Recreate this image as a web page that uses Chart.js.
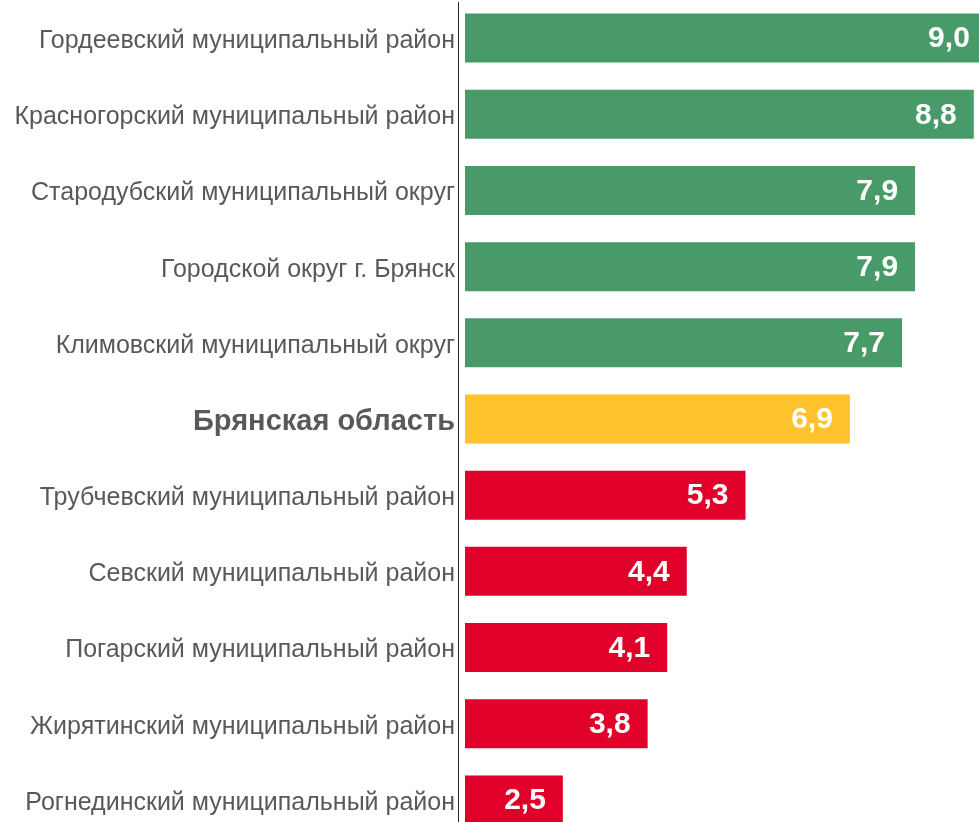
<!DOCTYPE html>
<html>
<head>
<meta charset="utf-8">
<script src="https://cdn.jsdelivr.net/npm/chart.js@4"></script>
<style>
html,body{margin:0;padding:0;background:#fff;overflow:hidden;}
#wrap{position:relative;width:979px;height:838px;}
</style>
</head>
<body>
<div id="wrap"><canvas id="c" width="979" height="838"></canvas></div>
<script>
const categories = [
  "Гордеевский муниципальный район",
  "Красногорский муниципальный район",
  "Стародубский муниципальный округ",
  "Городской округ г. Брянск",
  "Климовский муниципальный округ",
  "Брянская область",
  "Трубчевский муниципальный район",
  "Севский муниципальный район",
  "Погарский муниципальный район",
  "Жирятинский муниципальный район",
  "Рогнединский муниципальный район"
];
const values = [9.0, 8.8, 7.9, 7.9, 7.7, 6.9, 5.3, 4.4, 4.1, 3.8, 2.5];
const regionName = "Брянская область";

const regionValue = values[categories.indexOf(regionName)];
const barColors = categories.map((c, i) =>
  c === regionName ? "#FEC22D" : (values[i] > regionValue ? "#489A68" : "#E0002A"));

const valueLabels = {
  id: "valueLabels",
  afterDatasetsDraw(chart) {
    const ctx = chart.ctx;
    const meta = chart.getDatasetMeta(0);
    ctx.save();
    ctx.fillStyle = "#ffffff";
    ctx.font = "bold 30px 'Liberation Sans', Arial, sans-serif";
    ctx.textAlign = "right";
    ctx.textBaseline = "middle";
    meta.data.forEach((bar, i) => {
      const txt = values[i].toFixed(1).replace(".", ",");
      ctx.fillText(txt, bar.x - 17, bar.y + 1);
    });
    ctx.restore();
  }
};

const axisLine = {
  id: "axisLine",
  afterDraw(chart) {
    const ctx = chart.ctx;
    const x = chart.chartArea.left - 7;
    ctx.save();
    ctx.strokeStyle = "#262626";
    ctx.lineWidth = 1;
    ctx.beginPath();
    ctx.moveTo(x + 0.5, 2);
    ctx.lineTo(x + 0.5, chart.height);
    ctx.stroke();
    ctx.restore();
  }
};

new Chart(document.getElementById("c"), {
  type: "bar",
  data: {
    labels: categories,
    datasets: [{
      data: values,
      backgroundColor: barColors,
      borderWidth: 0,
      barPercentage: 0.643,
      categoryPercentage: 1.0
    }]
  },
  options: {
    indexAxis: "y",
    responsive: false,
    animation: false,
    layout: { padding: 0 },
    plugins: { legend: { display: false }, tooltip: { enabled: false } },
    scales: {
      x: {
        display: false,
        min: 1,
        max: 8.88
      },
      y: {
        grid: { display: false, drawTicks: false },
        border: { display: false },
        afterFit(scale) {
          scale.width = 465;
          scale.paddingTop = 0;
          scale.paddingBottom = 0;
        },
        ticks: {
          padding: 10,
          labelOffset: 3,
          color: "#595959",
          font: (ctx) => ({
            family: "'Liberation Sans', Arial, sans-serif",
            size: categories[ctx.index] === regionName ? 29 : 25,
            weight: categories[ctx.index] === regionName ? "bold" : "normal"
          })
        }
      }
    }
  },
  plugins: [valueLabels, axisLine]
});
</script>
</body>
</html>
